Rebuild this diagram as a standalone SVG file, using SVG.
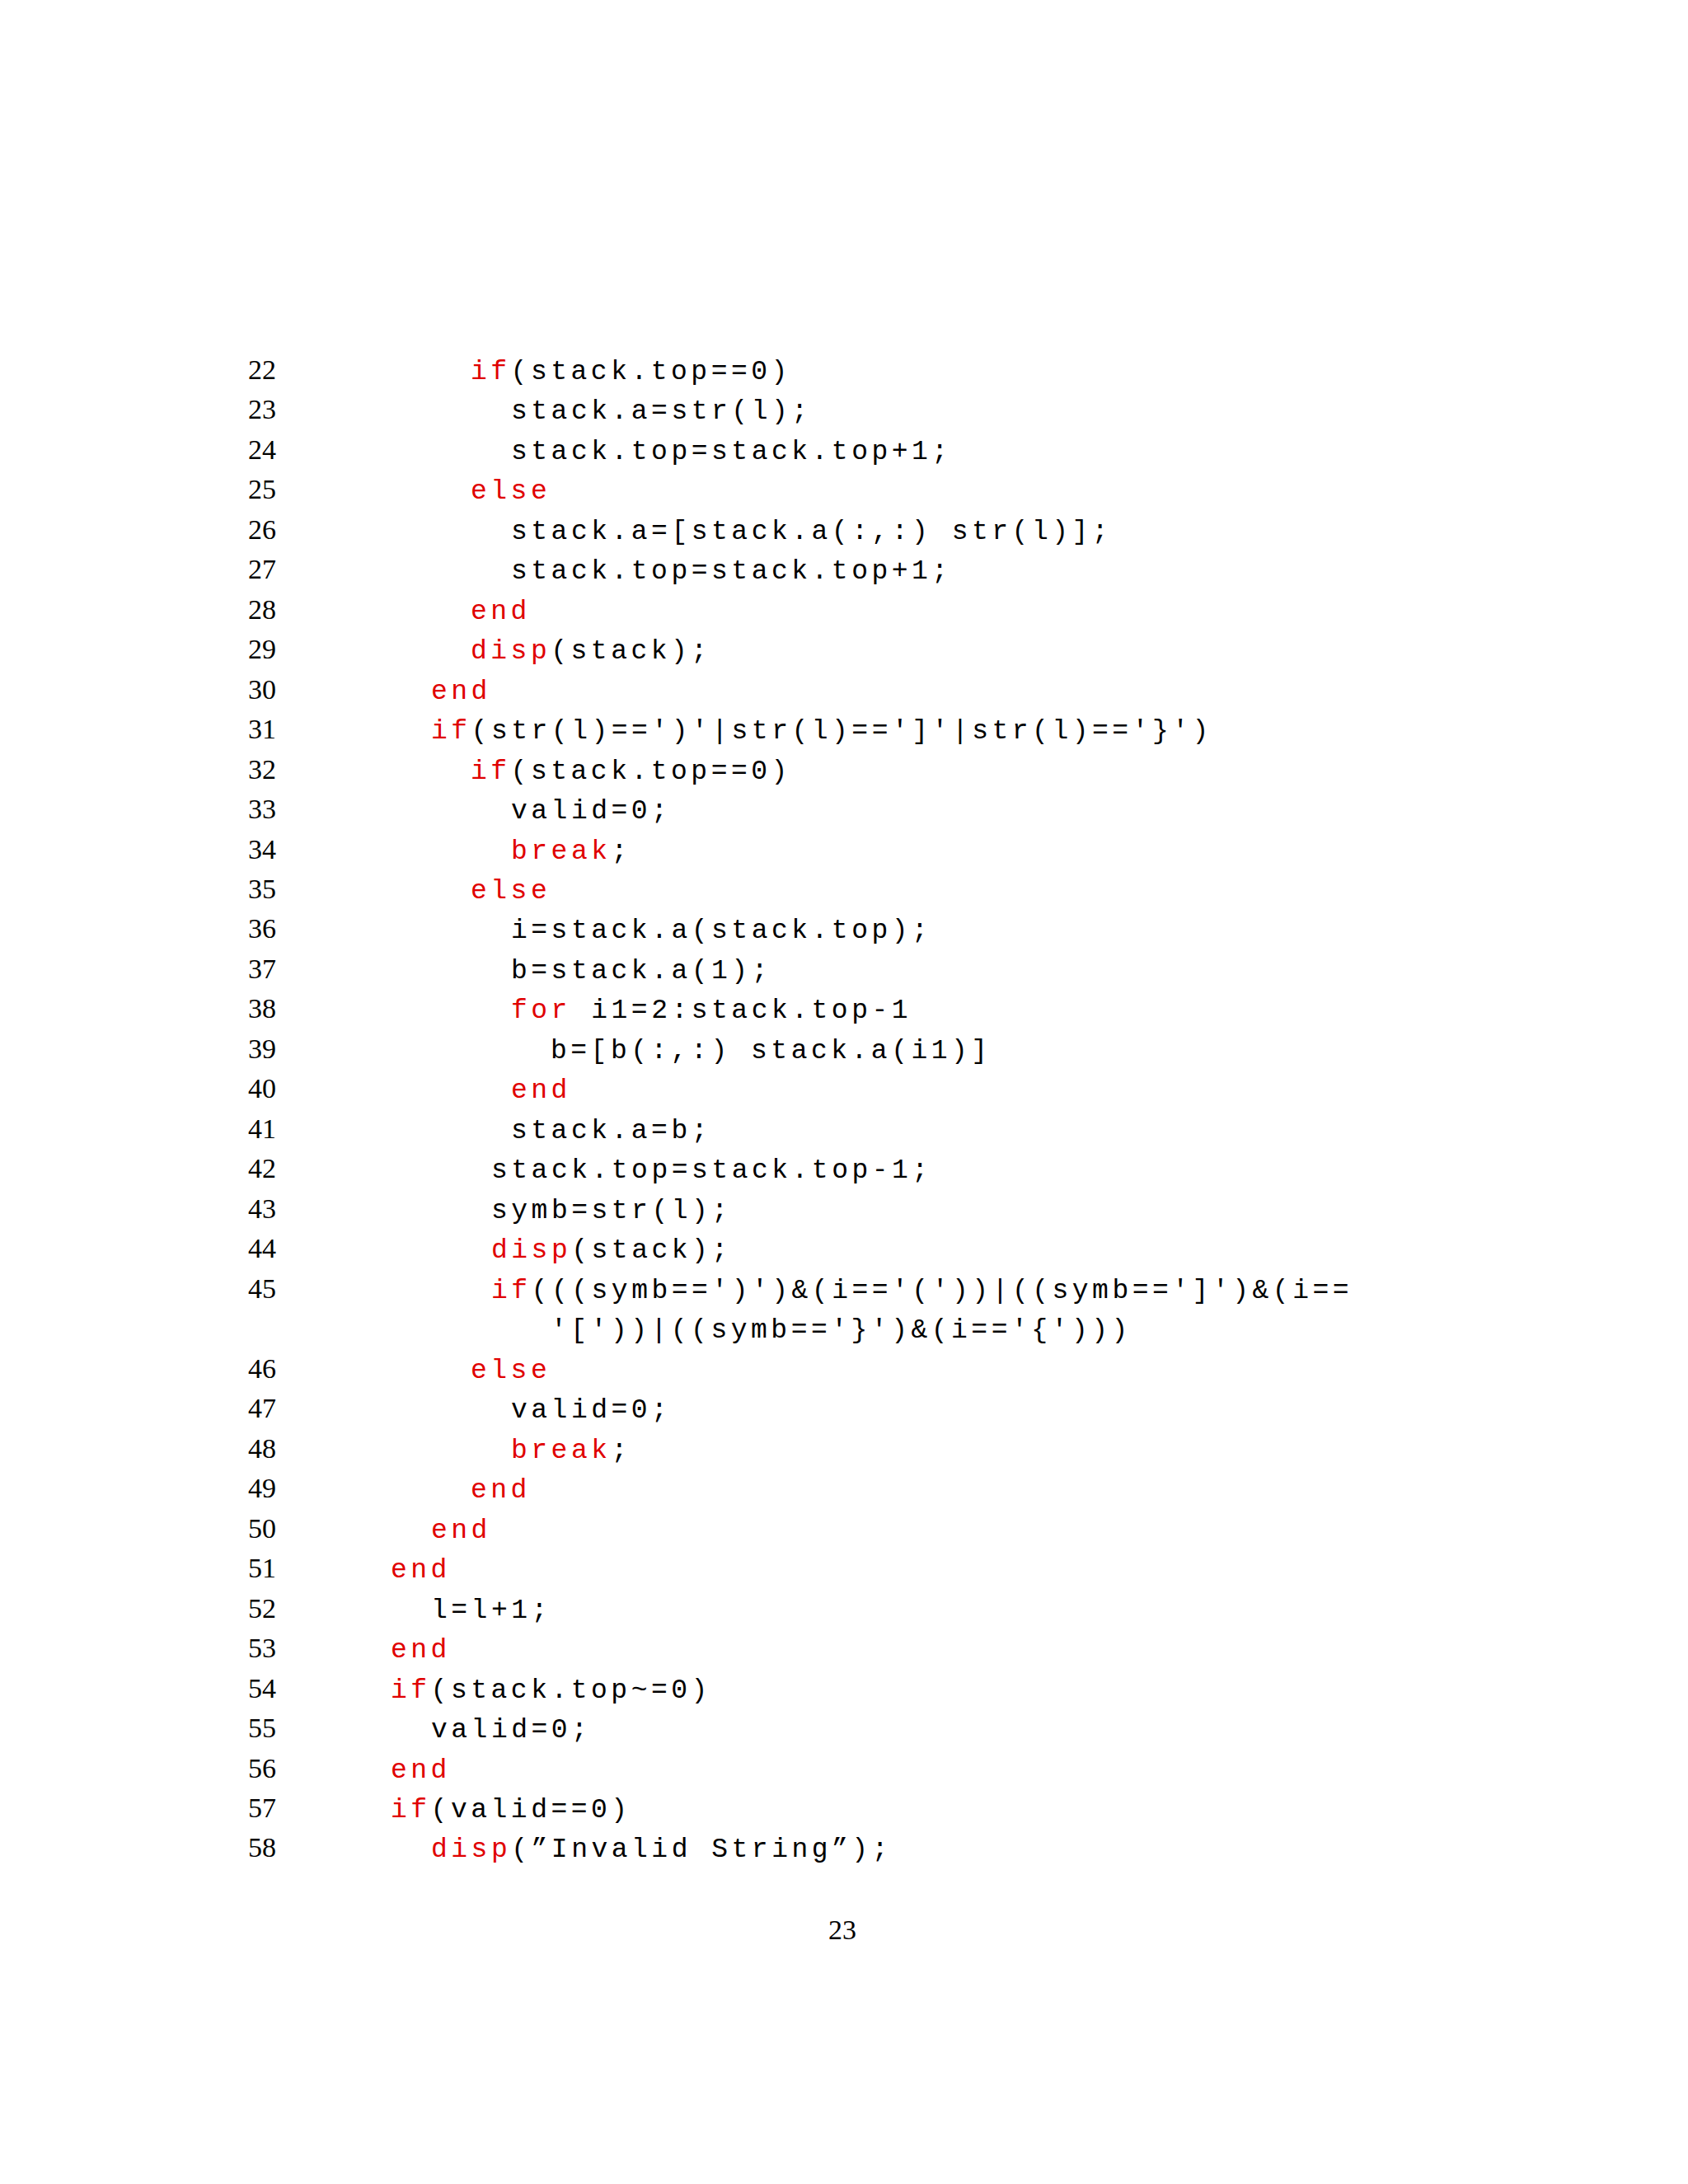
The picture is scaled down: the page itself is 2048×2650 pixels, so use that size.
<svg xmlns="http://www.w3.org/2000/svg" width="2048" height="2650" viewBox="0 0 2048 2650">
<style>
.n{font-family:"Liberation Serif",serif;font-size:34px;fill:#000}
.c{font-family:"Liberation Mono",monospace;font-size:33px;letter-spacing:4.5px;fill:#000}
.k{fill:#e00000}
</style>
<rect width="2048" height="2650" fill="#fff"/>
<g id="numbers" class="n">
<text x="301" y="460">22</text><text x="301" y="508">23</text><text x="301" y="557">24</text><text x="301" y="605">25</text><text x="301" y="654">26</text><text x="301" y="702">27</text><text x="301" y="751">28</text><text x="301" y="799">29</text><text x="301" y="848">30</text><text x="301" y="896">31</text><text x="301" y="945">32</text><text x="301" y="993">33</text><text x="301" y="1042">34</text><text x="301" y="1090">35</text><text x="301" y="1138">36</text><text x="301" y="1187">37</text><text x="301" y="1235">38</text><text x="301" y="1284">39</text><text x="301" y="1332">40</text><text x="301" y="1381">41</text><text x="301" y="1429">42</text><text x="301" y="1478">43</text><text x="301" y="1526">44</text><text x="301" y="1575">45</text><text x="301" y="1672">46</text><text x="301" y="1720">47</text><text x="301" y="1769">48</text><text x="301" y="1817">49</text><text x="301" y="1866">50</text><text x="301" y="1914">51</text><text x="301" y="1963">52</text><text x="301" y="2011">53</text><text x="301" y="2060">54</text><text x="301" y="2108">55</text><text x="301" y="2157">56</text><text x="301" y="2205">57</text><text x="301" y="2253">58</text>
</g>
<g id="code" class="c" xml:space="preserve">
<text x="571" y="460"><tspan class="k">if</tspan>(stack.top==0)</text>
<text x="620" y="508">stack.a=str(l);</text>
<text x="620" y="557">stack.top=stack.top+1;</text>
<text x="571" y="605" class="k">else</text>
<text x="620" y="654">stack.a=[stack.a(:,:) str(l)];</text>
<text x="620" y="702">stack.top=stack.top+1;</text>
<text x="571" y="751" class="k">end</text>
<text x="571" y="799"><tspan class="k">disp</tspan>(stack);</text>
<text x="523" y="848" class="k">end</text>
<text x="523" y="896"><tspan class="k">if</tspan>(str(l)==')'|str(l)==']'|str(l)=='}')</text>
<text x="571" y="945"><tspan class="k">if</tspan>(stack.top==0)</text>
<text x="620" y="993">valid=0;</text>
<text x="620" y="1042"><tspan class="k">break</tspan>;</text>
<text x="571" y="1090" class="k">else</text>
<text x="620" y="1138">i=stack.a(stack.top);</text>
<text x="620" y="1187">b=stack.a(1);</text>
<text x="620" y="1235"><tspan class="k">for</tspan> i1=2:stack.top-1</text>
<text x="668" y="1284">b=[b(:,:) stack.a(i1)]</text>
<text x="620" y="1332" class="k">end</text>
<text x="620" y="1381">stack.a=b;</text>
<text x="596" y="1429">stack.top=stack.top-1;</text>
<text x="596" y="1478">symb=str(l);</text>
<text x="596" y="1526"><tspan class="k">disp</tspan>(stack);</text>
<text x="596" y="1575"><tspan class="k">if</tspan>(((symb==')')&amp;(i=='('))|((symb==']')&amp;(i==</text>
<text x="668" y="1623">'['))|((symb=='}')&amp;(i=='{')))</text>
<text x="571" y="1672" class="k">else</text>
<text x="620" y="1720">valid=0;</text>
<text x="620" y="1769"><tspan class="k">break</tspan>;</text>
<text x="571" y="1817" class="k">end</text>
<text x="523" y="1866" class="k">end</text>
<text x="474" y="1914" class="k">end</text>
<text x="523" y="1963">l=l+1;</text>
<text x="474" y="2011" class="k">end</text>
<text x="474" y="2060"><tspan class="k">if</tspan>(stack.top~=0)</text>
<text x="523" y="2108">valid=0;</text>
<text x="474" y="2157" class="k">end</text>
<text x="474" y="2205"><tspan class="k">if</tspan>(valid==0)</text>
<text x="523" y="2253"><tspan class="k">disp</tspan>(”Invalid String”);</text>
</g>
<text id="page" class="n" x="1022" y="2353" text-anchor="middle">23</text>
</svg>
